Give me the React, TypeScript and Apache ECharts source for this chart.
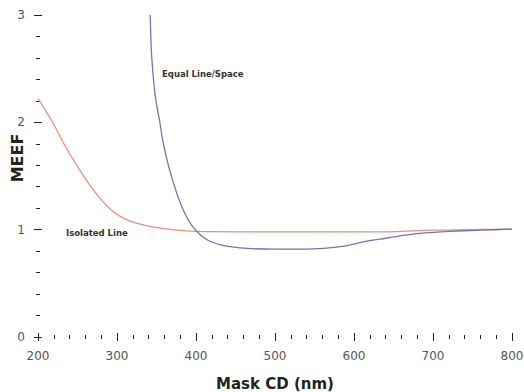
import React, { useEffect, useRef } from "react";
import * as echarts from "echarts";

const xTicks = [200, 300, 400, 500, 600, 700, 800];
const yTicks = [0, 1, 2, 3];

const isolatedX = [200, 220, 235, 250, 265, 280, 295, 310, 325, 345, 370, 400, 500, 600, 640, 660, 700, 750, 800];
const isolatedY = [2.22, 1.98, 1.77, 1.59, 1.42, 1.28, 1.17, 1.1, 1.06, 1.025, 1.0, 0.985, 0.98, 0.98, 0.98, 0.985, 0.995, 1.0, 1.005];

const equalX = [342, 343.5, 345.5, 348, 351, 354, 357, 360.5, 364, 368, 373, 378, 384, 391, 398, 405, 412, 420, 430, 445, 465, 500, 535, 565, 590, 615, 640, 665, 690, 720, 760, 800];
const equalY = [3.0, 2.67, 2.46, 2.27, 2.13, 2.01, 1.87, 1.74, 1.63, 1.52, 1.4, 1.29, 1.18, 1.08, 1.01, 0.955, 0.915, 0.885, 0.86, 0.84, 0.825, 0.818, 0.818, 0.828, 0.85, 0.89, 0.92, 0.95, 0.97, 0.985, 0.995, 1.005];

export default function App() {
  const ref = useRef<HTMLDivElement>(null);
  useEffect(() => {
    const chart = echarts.init(ref.current!, undefined, { renderer: "svg" });
    const font = "'DejaVu Sans', Arial, sans-serif";
    const baseX = (inside: boolean, labels: boolean) => ({
      type: "value",
      min: xTicks[0],
      max: xTicks[xTicks.length - 1],
      interval: 100,
      position: "bottom",
      axisLine: { show: false },
      splitLine: { show: false },
      axisTick: { show: true, inside, length: 4, lineStyle: { color: "#222", width: 1 } },
      minorTick: { show: true, splitNumber: 5, length: 2, lineStyle: { color: "#222", width: 1 } },
      axisLabel: {
        show: labels,
        margin: 13,
        color: "#555",
        fontSize: 12,
        fontFamily: font,
      },
      name: labels ? "Mask CD (nm)" : "",
      nameLocation: "middle",
      nameGap: 39,
      nameTextStyle: { fontSize: 15, fontWeight: "bold", color: "#222", fontFamily: font },
    });
    const baseY = (inside: boolean, labels: boolean) => ({
      type: "value",
      min: yTicks[0],
      max: yTicks[yTicks.length - 1],
      interval: 1,
      position: "left",
      axisLine: { show: false },
      splitLine: { show: false },
      axisTick: { show: true, inside, length: 4, lineStyle: { color: "#222", width: 1 } },
      minorTick: { show: true, splitNumber: 5, length: 2, lineStyle: { color: "#222", width: 1 } },
      axisLabel: {
        show: labels,
        margin: 13,
        color: "#555",
        fontSize: 12,
        fontFamily: font,
      },
    });
    chart.setOption({
      animation: false,
      backgroundColor: "#fff",
      grid: { left: 38, right: 12, top: 15, bottom: 55, containLabel: false, outerBoundsMode: "none" },
      xAxis: [baseX(false, true), baseX(true, false)],
      yAxis: [baseY(false, true), baseY(true, false)],
      series: [
        {
          name: "Isolated Line",
          type: "line",
          data: isolatedX.map((x, i) => [x, isolatedY[i]]),
          smooth: 0.4,
          showSymbol: false,
          lineStyle: { color: "#e4937a", width: 1.3 },
          z: 2,
        },
        {
          name: "Equal Line/Space",
          type: "line",
          data: equalX.map((x, i) => [x, equalY[i]]),
          smooth: 0.3,
          showSymbol: false,
          lineStyle: { color: "#7474b4", width: 1.3 },
          z: 3,
        },
      ],
      graphic: [
        {
          type: "text",
          x: 17,
          y: 158,
          rotation: Math.PI / 2,
          style: {
            text: "MEEF",
            fontSize: 16,
            fontWeight: "bold",
            fill: "#222",
            fontFamily: font,
            align: "center",
            verticalAlign: "middle",
          },
        },
        {
          type: "text",
          x: 162,
          y: 74,
          style: {
            text: "Equal Line/Space",
            fontSize: 8.5,
            fontWeight: "bold",
            fill: "#333",
            fontFamily: font,
            verticalAlign: "middle",
          },
        },
        {
          type: "text",
          x: 66,
          y: 233,
          style: {
            text: "Isolated Line",
            fontSize: 8.5,
            fontWeight: "bold",
            fill: "#333",
            fontFamily: font,
            verticalAlign: "middle",
          },
        },
      ],
    });
    return () => chart.dispose();
  }, []);
  return <div ref={ref} style={{ width: 524, height: 392, position: "absolute", left: 0, top: 0 }} />;
}
